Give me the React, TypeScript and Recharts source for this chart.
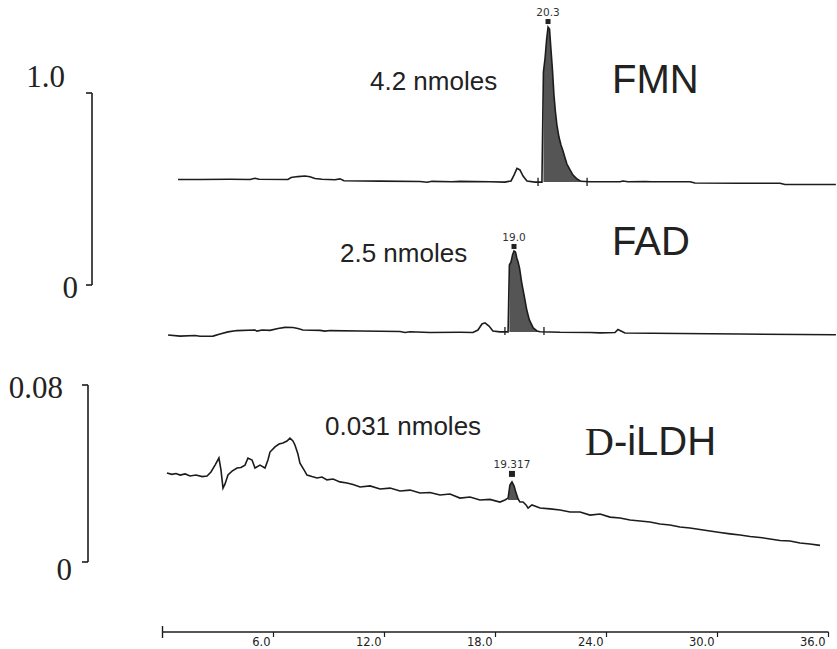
import React from 'react';
import { ComposedChart, Line, Area, XAxis, YAxis, ReferenceDot, ReferenceLine } from 'recharts';

// retention time (min) / absorbance pairs
const fmnTime = [0.84, 2.03, 3.65, 4.73, 5.0, 5.22, 6.78, 6.95, 7.32, 7.7, 7.97, 8.24, 8.62, 9.32, 9.59, 9.81, 11.76, 13.92, 14.3, 14.57, 15.65, 16.08, 17.7, 18.51, 18.84, 19.0, 19.16, 19.32, 19.49, 19.7, 20.14, 20.51, 20.59, 20.68, 20.76, 20.84, 20.92, 21.0, 21.08, 21.16, 21.24, 21.32, 21.43, 21.54, 21.65, 21.76, 21.86, 22.03, 22.19, 22.41, 22.62, 23.11, 24.73, 24.89, 25.16, 26.08, 26.46, 28.51, 28.78, 31.22, 33.38, 33.65, 36.4];
const fmnAbs = [0.003, 0.003, 0.004, 0.003, 0.009, 0.004, 0.003, 0.013, 0.018, 0.021, 0.017, 0.008, 0.004, 0.001, 0.006, -0.004, -0.006, -0.008, -0.012, -0.007, -0.009, -0.007, -0.009, -0.011, -0.005, 0.026, 0.061, 0.053, 0.021, -0.005, -0.011, -0.011, 0.568, 0.642, 0.737, 0.805, 0.795, 0.684, 0.579, 0.447, 0.358, 0.289, 0.226, 0.184, 0.153, 0.116, 0.084, 0.053, 0.026, 0.005, -0.007, -0.009, -0.009, -0.005, -0.009, -0.008, -0.009, -0.009, -0.016, -0.017, -0.017, -0.024, -0.024];

const fadTime = [0.3, 0.95, 1.76, 2.03, 2.73, 3.11, 3.54, 4.03, 5.0, 5.11, 5.38, 5.81, 6.24, 6.62, 7.05, 7.32, 7.59, 8.51, 8.78, 9.05, 10.68, 12.84, 13.11, 13.38, 14.46, 16.08, 16.78, 17.05, 17.27, 17.43, 17.65, 17.86, 18.24, 18.68, 18.75, 18.84, 18.92, 19.0, 19.08, 19.15, 19.22, 19.3, 19.42, 19.56, 19.69, 19.83, 20.04, 20.24, 20.41, 21.49, 23.11, 23.65, 24.46, 24.62, 24.78, 25.0, 27.97, 31.22, 34.46, 36.4];
const fadAbs = [-0.005, -0.011, -0.008, -0.012, -0.011, 0.0, 0.011, 0.018, 0.021, 0.015, 0.021, 0.019, 0.029, 0.035, 0.034, 0.029, 0.021, 0.019, 0.015, 0.018, 0.016, 0.013, 0.008, 0.012, 0.008, 0.009, 0.008, 0.021, 0.053, 0.059, 0.042, 0.016, 0.011, 0.011, 0.363, 0.379, 0.416, 0.437, 0.432, 0.4, 0.379, 0.347, 0.268, 0.196, 0.126, 0.074, 0.032, 0.016, 0.012, 0.009, 0.008, 0.006, 0.008, 0.024, 0.016, 0.005, 0.003, 0.0, -0.003, -0.004];

const ldhTime = [0.24, 0.51, 0.73, 0.95, 1.22, 1.49, 1.81, 2.14, 2.41, 2.62, 2.84, 3.05, 3.16, 3.27, 3.38, 3.54, 3.76, 4.03, 4.24, 4.46, 4.62, 4.84, 5.0, 5.27, 5.54, 5.7, 5.81, 6.08, 6.3, 6.51, 6.73, 6.89, 7.05, 7.16, 7.32, 7.43, 7.65, 7.81, 8.08, 8.35, 8.62, 8.89, 9.22, 9.59, 9.97, 10.3, 10.68, 11.22, 11.76, 12.3, 12.84, 13.38, 13.92, 14.46, 15.0, 15.54, 16.08, 16.62, 17.16, 17.7, 18.24, 18.51, 18.68, 18.78, 18.89, 19.0, 19.08, 19.22, 19.32, 19.49, 19.65, 19.76, 19.97, 20.41, 20.95, 21.49, 22.03, 22.57, 23.11, 23.65, 24.19, 24.73, 25.27, 25.81, 26.35, 26.89, 27.43, 27.97, 28.51, 29.05, 29.59, 30.14, 30.68, 31.22, 31.76, 32.3, 32.84, 33.38, 33.92, 34.46, 35.0, 35.54];
const ldhAbs = [0.0402, 0.0396, 0.04, 0.0393, 0.0398, 0.0389, 0.0393, 0.0386, 0.0389, 0.0407, 0.0438, 0.047, 0.0416, 0.0334, 0.0353, 0.0393, 0.0411, 0.0425, 0.0427, 0.0438, 0.047, 0.0461, 0.0425, 0.0438, 0.0425, 0.0461, 0.0497, 0.052, 0.0533, 0.0538, 0.0547, 0.056, 0.0547, 0.0529, 0.0488, 0.0447, 0.0416, 0.0393, 0.0386, 0.038, 0.0384, 0.0371, 0.0375, 0.0362, 0.0357, 0.035, 0.0339, 0.0344, 0.033, 0.0334, 0.0321, 0.0325, 0.0312, 0.0314, 0.0303, 0.0307, 0.0289, 0.0294, 0.028, 0.0283, 0.0271, 0.028, 0.0289, 0.0348, 0.0362, 0.0344, 0.0321, 0.0285, 0.0271, 0.0271, 0.0258, 0.0244, 0.0258, 0.0244, 0.024, 0.0235, 0.0226, 0.0226, 0.0212, 0.0217, 0.0203, 0.0199, 0.019, 0.0185, 0.0181, 0.0172, 0.0167, 0.0158, 0.0154, 0.0147, 0.014, 0.0133, 0.0127, 0.0122, 0.0115, 0.0111, 0.0104, 0.0097, 0.0095, 0.0086, 0.0081, 0.0075];

// integrated windows, baseline under each shaded peak, integration marks
const fmnWindow = [20.59, 22.62];
const fadWindow = [18.75, 20.41];
const ldhWindow = [18.68, 19.32];
const fmnMarks = [20.3, 22.95];
const fadMarks = [18.51, 20.62];

const peakLabels = ['20.3', '19.0', '19.317'];
const amounts = ['4.2 nmoles', '2.5 nmoles', '0.031 nmoles'];
const timeTicks = [0, 6, 12, 18, 24, 30, 36];

const toPoints = (time: number[], abs: number[]) => time.map((t, i) => ({ t, v: abs[i] }));
const inWindow = (pts: { t: number; v: number }[], w: number[]) => pts.filter((p) => p.t >= w[0] && p.t <= w[1]);

const fmn = toPoints(fmnTime, fmnAbs);
const fad = toPoints(fadTime, fadAbs);
const ldh = toPoints(ldhTime, ldhAbs);

const INK = '#1c1c1c';
const W = 837;
const LEFT = 162.5;

const peakOf = (pts: { t: number; v: number }[]) => pts.reduce((a, b) => (b.v > a.v ? b : a));

const PeakMark = (label: string, up: number, size: number) => (p: any) => (
  <g>
    <rect x={p.cx - size / 2} y={p.cy - up} width={size} height={size} fill="#222" />
    <text x={p.cx} y={p.cy - up - 3} textAnchor="middle" fontFamily="DejaVu Sans" fontSize={10.5} fill="#333">
      {label}
    </text>
  </g>
);

interface TraceProps {
  data: { t: number; v: number }[];
  window: number[];
  base: number;
  domain: number[];
  top: number;
  height: number;
  mt: number;
  mb: number;
  label: string;
  up: number;
  size: number;
  marks?: number[];
  markSpan?: number[];
}

const Trace = ({ data, window, base, domain, top, height, mt, mb, label, up, size, marks = [], markSpan = [0, 0] }: TraceProps) => {
  const shaded = inWindow(data, window);
  const peak = peakOf(shaded);
  return (
    <div style={{ position: 'absolute', left: 0, top, width: W, height }}>
      <ComposedChart width={W} height={height} margin={{ top: mt, bottom: mb, left: LEFT, right: 1.1 }}>
        <XAxis type="number" dataKey="t" domain={[0, 36.4]} hide />
        <YAxis type="number" domain={domain} hide />
        <Area data={shaded} dataKey="v" type="linear" baseValue={base} fill="#555" fillOpacity={1} stroke="none" isAnimationActive={false} />
        <Line data={data} dataKey="v" type="linear" stroke={INK} strokeWidth={1.6} dot={false} isAnimationActive={false} />
        {marks.map((m) => (
          <ReferenceLine key={m} segment={[{ x: m, y: markSpan[0] }, { x: m, y: markSpan[1] }]} stroke={INK} strokeWidth={1.3} ifOverflow="visible" />
        ))}
        <ReferenceDot x={peak.t} y={peak.v} shape={PeakMark(label, up, size)} ifOverflow="visible" />
      </ComposedChart>
    </div>
  );
};

const scaleText: Record<string, { text: string; dx: number; dy: number }> = {
  'top-1': { text: '1.0', dx: -19, dy: -6 },
  'top-0': { text: '0', dx: -6, dy: 13 },
  'bot-0.08': { text: '0.08', dx: -17, dy: 13 },
  'bot-0': { text: '0', dx: -8, dy: 18 },
};

const ScaleBar = ({ id, top, height, mt, mb, width, domain }: { id: string; top: number; height: number; mt: number; mb: number; width: number; domain: number[] }) => (
  <div style={{ position: 'absolute', left: 0, top, width: width + 10, height }}>
    <ComposedChart width={width + 10} height={height} data={[{ t: 0, v: domain[0] }, { t: 1, v: domain[1] }]} margin={{ top: mt, bottom: mb, left: 0, right: 0 }}>
      <XAxis type="number" dataKey="t" hide />
      <YAxis
        type="number"
        domain={domain}
        ticks={domain}
        width={width}
        axisLine={{ stroke: INK, strokeWidth: 1.6 }}
        tickLine={{ stroke: INK, strokeWidth: 1.6 }}
        tickSize={6}
        tick={(p: any) => {
          const s = scaleText[`${id}-${p.payload.value}`];
          return (
            <text x={p.x + s.dx} y={p.y + s.dy} textAnchor="end" fontFamily="Liberation Serif" fontSize={31} fill="#222">
              {s.text}
            </text>
          );
        }}
      />
      <Line dataKey="v" stroke="none" dot={false} isAnimationActive={false} />
    </ComposedChart>
  </div>
);

const TimeTick = (p: any) => {
  const v = p.payload.value;
  if (v === 0) return <line x1={p.x} x2={p.x} y1={p.y - 6} y2={p.y + 6} stroke={INK} strokeWidth={1.4} />;
  return (
    <g>
      <line x1={p.x} x2={p.x} y1={p.y} y2={p.y + 5} stroke={INK} strokeWidth={1.2} />
      <text x={p.x - 3} y={p.y + 14} textAnchor="end" fontFamily="DejaVu Sans" fontSize={11.5} fill="#222">
        {v.toFixed(1)}
      </text>
    </g>
  );
};

export default function App() {
  return (
    <div style={{ position: 'absolute', left: 0, top: 0, width: W, height: 649, background: '#fff', overflow: 'hidden' }}>
      <ScaleBar id="top" top={0} height={320} mt={93} mb={35} width={92} domain={[0, 1]} />
      <ScaleBar id="bot" top={360} height={240} mt={25} mb={38} width={88} domain={[0, 0.08]} />

      <Trace data={fmn} window={fmnWindow} base={-0.01} domain={[-0.06, 0.85]} top={0} height={200} mt={18.5} mb={8.6} label={peakLabels[0]} up={8} size={5} marks={fmnMarks} markSpan={[-0.032, 0.012]} />
      <Trace data={fad} window={fadWindow} base={0.011} domain={[-0.06, 0.5]} top={200} height={160} mt={39} mb={14.6} label={peakLabels[1]} up={7} size={5} marks={fadMarks} markSpan={[-0.005, 0.037]} />
      <Trace data={ldh} window={ldhWindow} base={0.028} domain={[0, 0.06]} top={380} height={200} mt={49.25} mb={18} label={peakLabels[2]} up={11} size={6} />

      <div style={{ position: 'absolute', left: 0, top: 560, width: W, height: 89 }}>
        <ComposedChart width={W} height={89} data={[{ t: 0 }, { t: 36 }]} margin={{ top: 10, bottom: 0, left: LEFT, right: 8.5 }}>
          <XAxis type="number" dataKey="t" domain={[0, 36]} ticks={timeTicks} height={17} tickLine={false} tickSize={0} tickMargin={0} axisLine={{ stroke: INK, strokeWidth: 1.5 }} tick={TimeTick} />
          <YAxis hide />
        </ComposedChart>
      </div>

      <svg width={W} height={649} style={{ position: 'absolute', left: 0, top: 0, pointerEvents: 'none' }}>
        <g fontFamily="Liberation Sans" fill="#222">
          <text x={370} y={90} fontSize={26}>{amounts[0]}</text>
          <text x={612} y={93} fontSize={40}>FMN</text>
          <text x={340} y={262} fontSize={26}>{amounts[1]}</text>
          <text x={612} y={255} fontSize={40}>FAD</text>
          <text x={325} y={435} fontSize={26}>{amounts[2]}</text>
          <text x={585} y={455} fontSize={40}>
            <tspan fontFamily="Liberation Serif">D</tspan>
            <tspan>-iLDH</tspan>
          </text>
        </g>
      </svg>
    </div>
  );
}
